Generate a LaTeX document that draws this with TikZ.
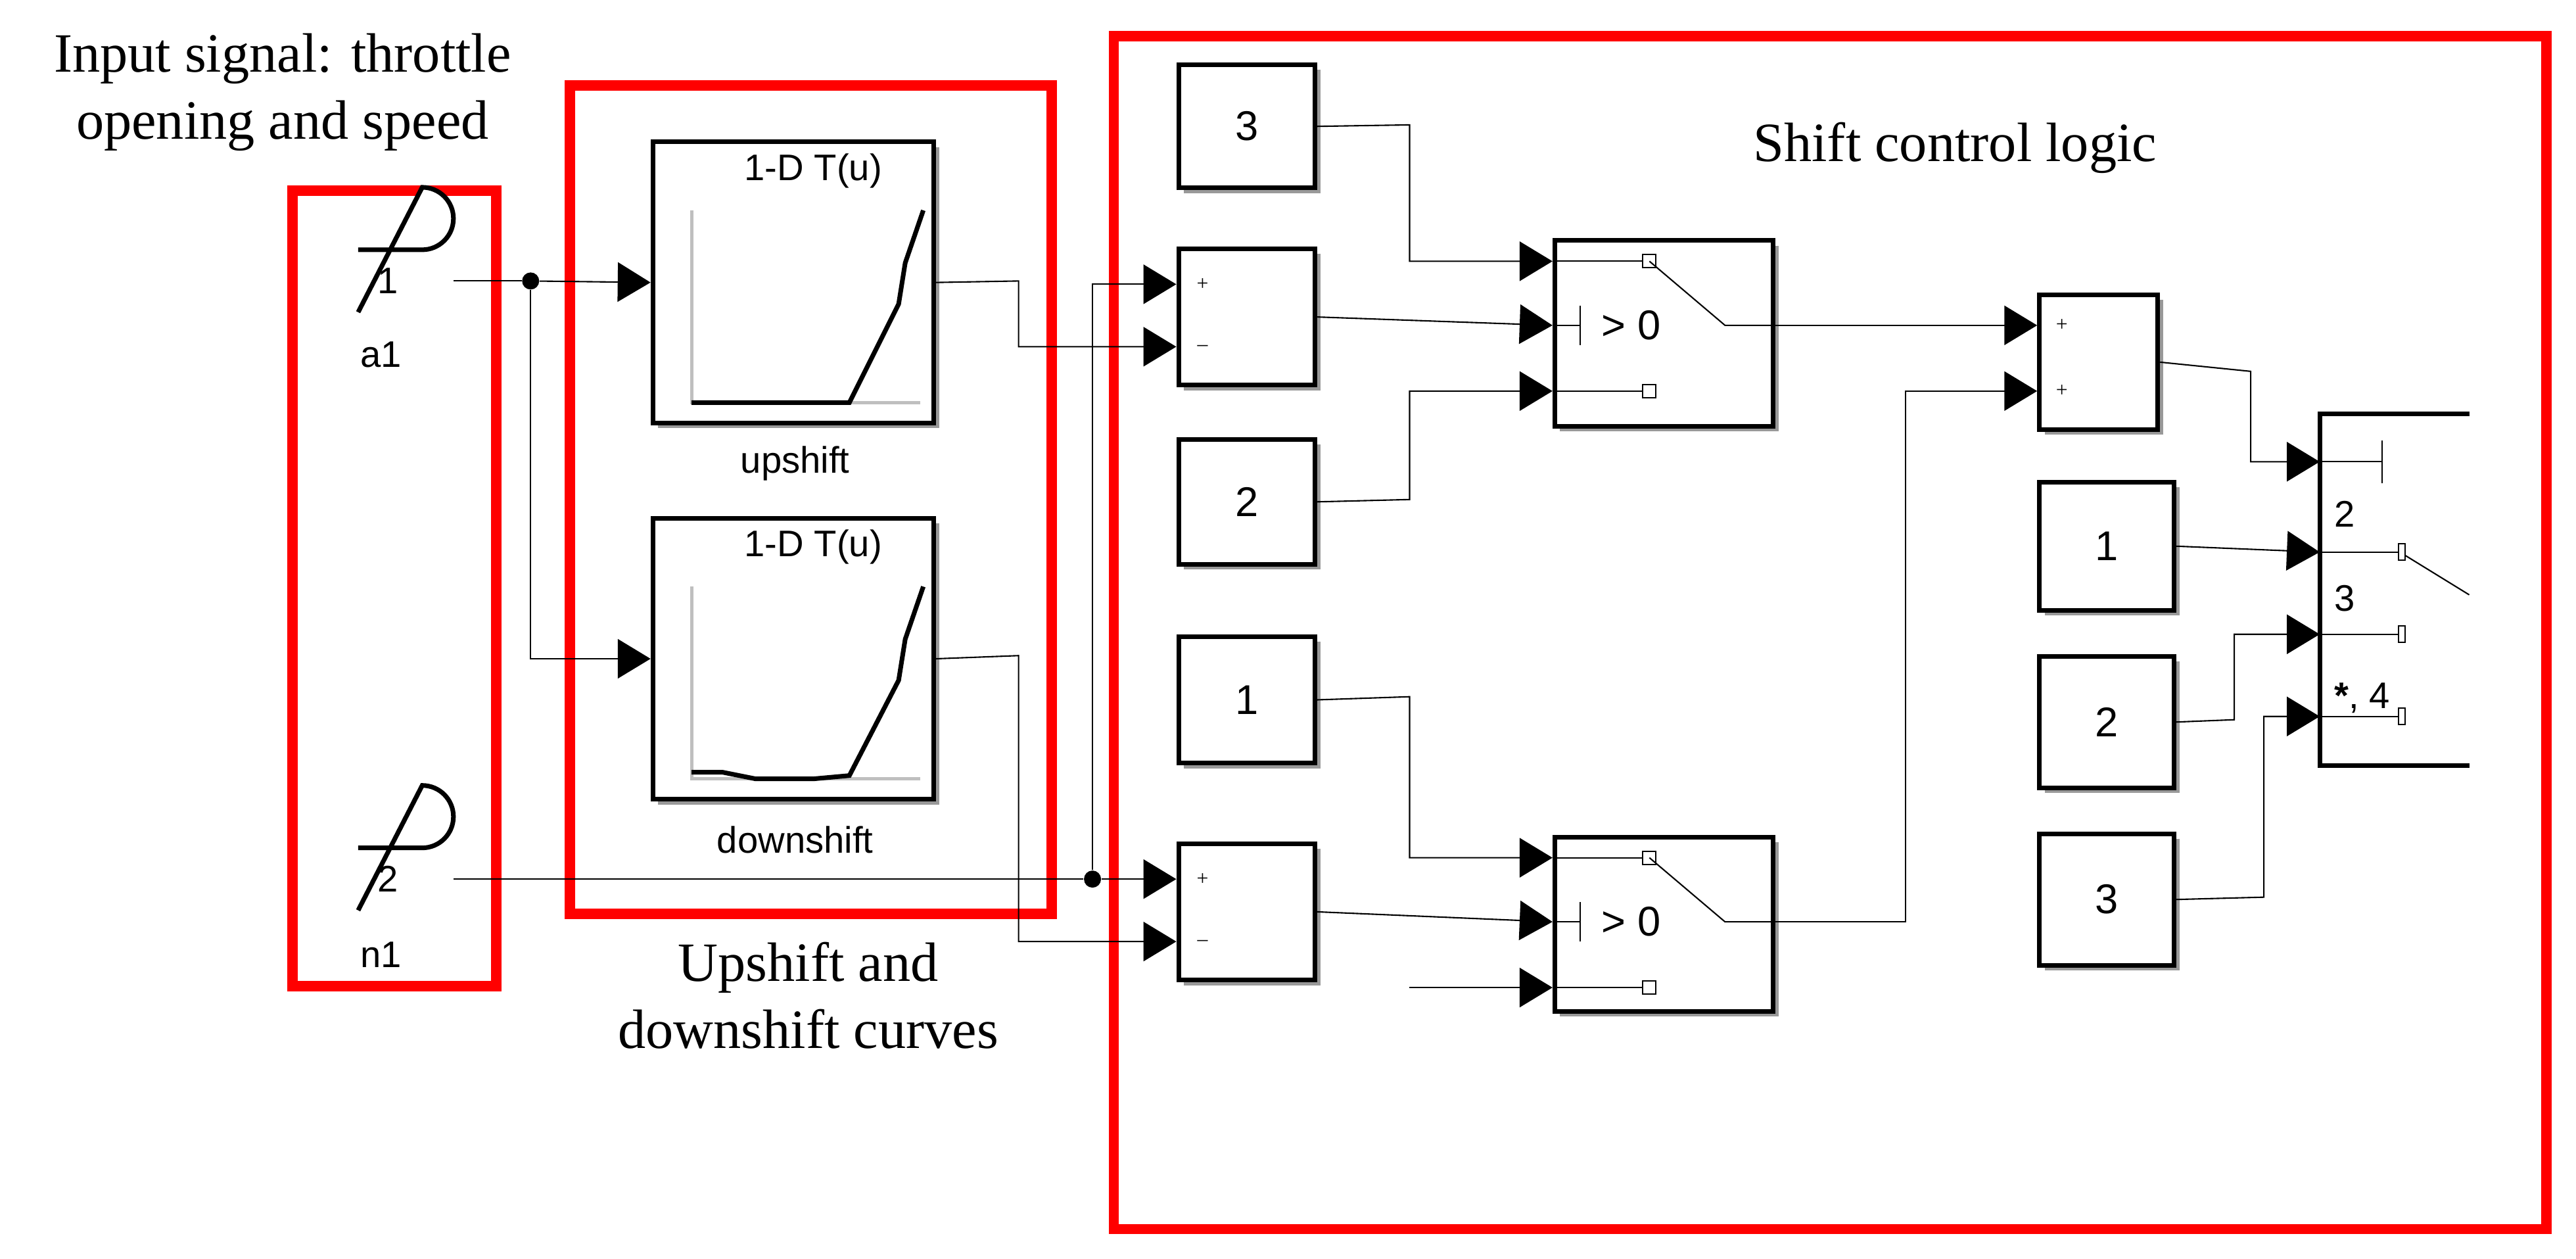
\documentclass[tikz,border=0pt]{standalone}
\usepackage{fontspec}
\setmainfont{Liberation Serif}
\newfontfamily\blockfont{Liberation Sans}
\usetikzlibrary{arrows.meta,shadows,calc}
\begin{document}
\begin{tikzpicture}[x=0.25mm,y=-0.25mm,
block/.style={draw,line width=2pt,fill=white,anchor=north west,inner sep=0pt,
  font=\blockfont\fontsize{18}{20}\selectfont,
  drop shadow={shadow xshift=0.8mm,shadow yshift=-0.8mm,fill=black!40,opacity=1}},
wire/.style={line width=0.6pt,-{Triangle[length=5mm,width=6mm]}},
line/.style={line width=0.6pt},
frame/.style={draw=red,line width=4.5pt},
caption/.style={font=\fontsize{24}{29}\selectfont,align=center},
small/.style={font=\blockfont\fontsize{16}{18}\selectfont},
dot/.style={circle,fill,inner sep=0pt,minimum size=2.6mm}
]
\useasboundingbox (0,0) rectangle (1568,766);

% red frames and captions
\draw[frame] (178,116) rectangle (302,600);
\draw[frame] (347,52) rectangle (640,556);
\draw[frame] (678,22) rectangle (1550,748);
\node[caption] (capin) at (172,56) {Input signal: throttle\\opening and speed};
\node[caption] (capcurve) at (492,606) {Upshift and\\downshift curves};
\node[caption] (caplogic) at (1190,90) {Shift control logic};

% inports
\draw[line width=2pt,fill=white] (218,152) -- (257,152) arc (90:-90:19) -- (218,190);
\draw[line width=2pt,fill=white] (218,516) -- (257,516) arc (90:-90:19) -- (218,554);
\node[small] (lin1) at (236,171) {1};
\node[small] (lin2) at (236,535) {2};
\node[small] (la1) at (232,216) {a1};
\node[small] (ln1) at (232,581) {n1};
\coordinate (in1) at (276,171);
\coordinate (in2) at (276,535);

% lookup tables
\node[block,minimum width=42.75mm,minimum height=42.75mm] (up) at (396,85) {};
\node[block,minimum width=42.75mm,minimum height=42.75mm] (down) at (396,314) {};
\foreach \b/\dy in {up/0,down/229}{
  \begin{scope}[yshift=-\dy*0.25mm]
    \node[small] (\b title) at (495,104) {1-D T(u)};
    \draw[black!25,line width=1.5pt] (421,128) -- (421,245) -- (560,245);
  \end{scope}}
\draw[line width=2pt] (421,245) -- (517,245) -- (547,185) -- (551,160) -- (562,128);
\draw[line width=2pt] (421,470) -- (440,470) -- (460,474) -- (495,474) -- (517,472) -- (547,414) -- (551,389) -- (562,357);
\node[small] (lup) at (484,282) {upshift};
\node[small] (ldown) at (484,511) {downshift};

% sums
\node[block,minimum width=20.75mm,minimum height=20.75mm] (sum1) at (716,150) {};
\node[block,minimum width=20.75mm,minimum height=20.75mm] (sum2) at (716,512) {};
\node[block,minimum width=18mm,minimum height=20.5mm] (sum3) at (1240,178) {};
\node[font=\small] at (732,173) {+};
\node[font=\small] at (732,212) {--};
\node[font=\small] at (732,535) {+};
\node[font=\small] at (732,574) {--};
\node[font=\small] at (1255,198) {+};
\node[font=\small] at (1255,238) {+};

% constants
\node[block,minimum width=20.75mm,minimum height=18.75mm] (c3a) at (716,38) {};
\node[block,minimum width=20.75mm,minimum height=19mm] (c2a) at (716,266) {};
\node[block,minimum width=20.75mm,minimum height=19.25mm] (c1a) at (716,386) {};
\node[block,minimum width=20.5mm,minimum height=19.5mm] (c1b) at (1240,292) {};
\node[block,minimum width=20.5mm,minimum height=20mm] (c2b) at (1240,398) {};
\node[block,minimum width=20.5mm,minimum height=20mm] (c3b) at (1240,506) {};
\foreach \c/\t in {c3a/3,c2a/2,c1a/1,c1b/1,c2b/2,c3b/3}
  \node[small,font=\blockfont\fontsize{18}{20}\selectfont] at (\c.center) {\t};

% switches
\node[block,minimum width=33.25mm,minimum height=28.25mm] (sw1) at (945,145) {};
\node[block,minimum width=33.25mm,minimum height=26.5mm] (sw2) at (945,508) {};
\foreach \s/\y in {sw1/145,sw2/508}{
  \begin{scope}[yshift=-(\y-145)*0.25mm]
    \draw[line] (945,159) -- (1000,159);
    \draw[line] (945,238) -- (1000,238);
    \draw[line,fill=white] (1000,155) rectangle (1008,163);
    \draw[line,fill=white] (1000,234) rectangle (1008,242);
    \draw[line] (1004,159) -- (1050,198) -- (1078,198);
    \draw[line] (945,198) -- (962,198) (962,186) -- (962,210);
    \node[small,font=\blockfont\fontsize{18}{20}\selectfont,anchor=west] at (970,198) {> 0};
  \end{scope}}

% multiport switch
\draw[line width=2pt] (1503,252) -- (1412,252) -- (1412,466) -- (1503,466);
\draw[line] (1412,281) -- (1450,281) (1450,268) -- (1450,294);
\foreach \y in {336,386,436}{
  \draw[line] (1412,\y) -- (1460,\y);
  \draw[line,fill=white] (1460,\y-5) rectangle (1464,\y+5);}
\draw[line] (1464,338) -- (1503,362);
\node[small,anchor=west] at (1416,313) {2};
\node[small,anchor=west] at (1416,364) {3};
\node[small,anchor=west] at (1416,425) {\textbf{*}, 4};
\coordinate (mp1) at (1412,281);
\coordinate (mp2) at (1412,336);
\coordinate (mp3) at (1412,386);
\coordinate (mp4) at (1412,436);

% connectors
\node[dot] (j1) at (323,171) {};
\node[dot] (j2) at (665,535) {};
\draw[line] (in1) -- (j1);
\draw[wire] (j1) -- (up.west);
\draw[wire] (j1) |- (down.west);
\draw[line] (in2) -- (j2);
\draw[wire] (j2) -- (716,535);
\draw[wire] (j2) |- (716,173);
\draw[wire] (up.east) -- (620,171) |- (716,211);
\draw[wire] (down.east) -- (620,399) |- (716,573);
\draw[wire] (c3a.east) -- (858,76) |- (945,159);
\draw[wire] (sum1.east) -- (945,198);
\draw[wire] (c2a.east) -- (858,304) |- (945,238);
\draw[wire] (c1a.east) -- (858,424) |- (945,522);
\draw[wire] (sum2.east) -- (945,561);
\draw[wire] (858,601) -- (945,601);
\draw[wire] (1078,198) -- (1240,198);
\draw[wire] (1078,561) -- (1160,561) |- (1240,238);
\draw[wire] (sum3.east) -- (1370,226) |- (mp1);
\draw[wire] (c1b.east) -- (mp2);
\draw[wire] (c2b.east) -- (1360,438) |- (mp3);
\draw[wire] (c3b.east) -- (1378,546) |- (mp4);
\end{tikzpicture}
\end{document}
